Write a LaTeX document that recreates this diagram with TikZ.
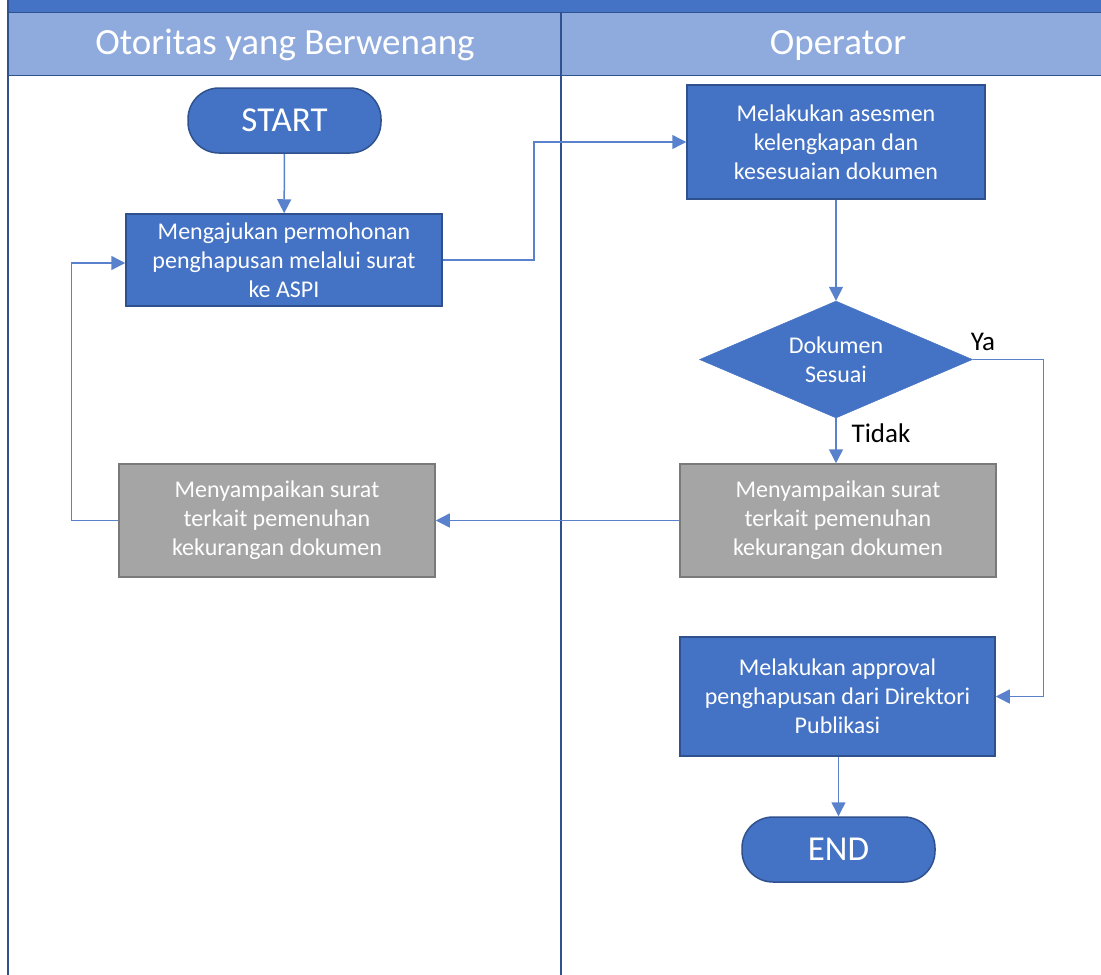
\documentclass[tikz,border=0pt]{standalone}
\usepackage{fontspec}
\setmainfont{Carlito}
\usetikzlibrary{arrows.meta,shapes.geometric,positioning}
\definecolor{mainblue}{HTML}{4472C4}
\definecolor{edgeblue}{HTML}{2F528F}
\definecolor{headblue}{HTML}{8FAADC}
\definecolor{flowblue}{HTML}{5A82CC}
\definecolor{grayfill}{HTML}{A5A5A5}
\definecolor{grayedge}{HTML}{7A7A7A}
\begin{document}
\begin{tikzpicture}[x=1pt,y=-1pt,
    procbox/.style={rectangle, draw=edgeblue, line width=1.5pt, fill=mainblue, text=white, align=center, inner sep=2pt, font=\fontsize{24}{29}\selectfont},
    graybox/.style={procbox, draw=grayedge, fill=grayfill, minimum width=316pt, minimum height=113pt},
    termbox/.style={rectangle, rounded corners=31pt, draw=edgeblue, line width=1.5pt, fill=mainblue, text=white, minimum width=193pt, minimum height=65pt, font=\fontsize{35}{40}\selectfont},
    decbox/.style={diamond, shape aspect=2.33, draw=mainblue, fill=mainblue, text=white, align=center, minimum width=273pt, minimum height=117pt, inner sep=0pt, font=\fontsize{24}{29}\selectfont},
    lanehead/.style={text=white, font=\fontsize{37}{44}\selectfont},
    lbl/.style={text=black, font=\fontsize{27}{32}\selectfont},
    flow/.style={draw=flowblue, line width=1.5pt, ->, >={Triangle[length=14pt,width=14pt]}}]
  \useasboundingbox (0,0) rectangle (1101,975);
  % swimlanes
  \fill[mainblue] (8,0) rectangle (1101,12);
  \fill[headblue] (8,12) rectangle (1101,75);
  \draw[edgeblue, line width=1pt] (8,12) -- (1101,12);
  \draw[edgeblue, line width=1pt] (8,75) -- (1101,75);
  \draw[edgeblue, line width=2pt] (8,0) -- (8,975);
  \draw[edgeblue, line width=2pt] (561,12) -- (561,975);
  \node[lanehead] (laneA) at (285,45) {Otoritas yang Berwenang};
  \node[lanehead] (laneB) at (838,45) {Operator};

  % left lane
  \node[termbox] (start) at (284.5,120.5) {START};
  \node[procbox, minimum width=316pt, minimum height=92pt] (ajukan) at (284,260) {Mengajukan permohonan\\penghapusan melalui surat\\ke ASPI};
  \node[graybox] (kirimA) at (277,520.5) {Menyampaikan surat\\terkait pemenuhan\\kekurangan dokumen};

  % right lane
  \node[procbox, minimum width=298pt, minimum height=114pt] (asesmen) at (836,142) {Melakukan asesmen\\kelengkapan dan\\kesesuaian dokumen};
  \node[decbox] (cek) at (836,359.5) {Dokumen\\Sesuai};
  \node[graybox] (kirimB) at (838,520.5) {Menyampaikan surat\\terkait pemenuhan\\kekurangan dokumen};
  \node[procbox, minimum width=315pt, minimum height=119pt] (approval) at (837.5,696.5) {Melakukan approval\\penghapusan dari Direktori\\Publikasi};
  \node[termbox] (end) at (838.5,849.5) {END};
  \node[lbl] (ya) at (983,342) {Ya};
  \node[lbl] (tidak) at (881,433) {Tidak};

  % connectors
  \draw[flow] (start) -- (ajukan);
  \draw[flow] (ajukan.east) -- ++(91,0) |- (asesmen.west);
  \draw[flow] (asesmen) -- (cek);
  \draw[flow] (cek.south) -- (cek.south |- kirimB.north);
  \draw[flow] (cek.east) -- ++(71,0) |- (approval.east);
  \draw[flow] (kirimB) -- (kirimA);
  \draw[flow] (kirimA.west) -- ++(-47,0) |- ([yshift=-3pt]ajukan.west);
  \draw[flow] (approval.south -| end) -- (end);
\end{tikzpicture}
\end{document}
